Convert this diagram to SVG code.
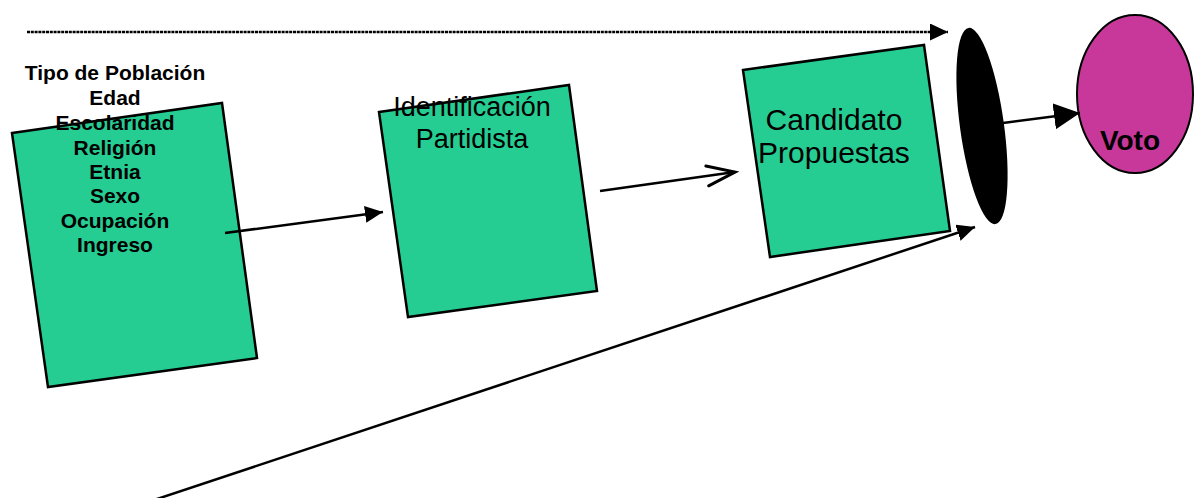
<svg xmlns="http://www.w3.org/2000/svg" width="1194" height="498" viewBox="0 0 1194 498">
  <style>
    .box { fill: #26CD93; stroke: #000; stroke-width: 2.5; }
    .conn { stroke: #000; stroke-width: 2.5; fill: none; }
    .bt { font-family: "Liberation Sans", Arial, sans-serif; font-weight: bold; font-size: 21px; fill: #000; text-anchor: middle; }
    .rt { font-family: "Liberation Sans", Arial, sans-serif; fill: #000; text-anchor: middle; }
    .voto { font-size: 28px; }
  </style>
  <defs>
    <marker id="headS" markerUnits="userSpaceOnUse" markerWidth="20" markerHeight="18" refX="18" refY="8.5" orient="auto">
      <path d="M0,0 L18,8.5 L0,17 z" fill="#000"/>
    </marker>
    <marker id="headL" markerUnits="userSpaceOnUse" markerWidth="28" markerHeight="28" refX="26" refY="13" orient="auto">
      <path d="M0,0 L26,13 L0,26 z" fill="#000"/>
    </marker>
    <marker id="headOpen" markerUnits="userSpaceOnUse" markerWidth="34" markerHeight="26" refX="30" refY="12" orient="auto">
      <path d="M2,2 L30,12 L2,22" fill="none" stroke="#000" stroke-width="3" stroke-linecap="round"/>
    </marker>
  </defs>
  <rect width="1194" height="498" fill="#fff"/>

  <g id="node-poblacion">
    <polygon class="box" points="12,133 222,103 257,358 48,387"/>
    <text class="bt" x="115" y="80">Tipo de Población</text>
    <text class="bt" x="115" y="105">Edad</text>
    <text class="bt" x="115" y="130">Escolaridad</text>
    <text class="bt" x="115" y="155">Religión</text>
    <text class="bt" x="115" y="179">Etnia</text>
    <text class="bt" x="115" y="203">Sexo</text>
    <text class="bt" x="115" y="228">Ocupación</text>
    <text class="bt" x="115" y="252">Ingreso</text>
  </g>

  <g id="node-identificacion">
    <polygon class="box" points="379,112 569,85 597,291 408,317"/>
    <text class="rt" x="472" y="116" font-size="27">Identificación</text>
    <text class="rt" x="472" y="148" font-size="27">Partidista</text>
  </g>

  <g id="node-candidato">
    <polygon class="box" points="743,70 924,45 950,231 770,257"/>
    <text class="rt" x="834" y="130" font-size="30">Candidato</text>
    <text class="rt" x="834" y="163" font-size="30">Propuestas</text>
  </g>

  <g id="node-filtro">
    <ellipse cx="982" cy="126" rx="22" ry="99" transform="rotate(-7.8 982 126)" fill="#000"/>
  </g>

  <g id="node-voto">
    <ellipse cx="1135" cy="94" rx="58" ry="79" fill="#C8389B" stroke="#000" stroke-width="2"/>
    <text class="bt voto" x="1130" y="150">Voto</text>
  </g>

  <g id="connectors">
    <line class="conn" x1="27" y1="32" x2="948" y2="32" stroke-width="3.5" stroke-dasharray="3 0.8" marker-end="url(#headS)"/>
    <line class="conn" x1="225" y1="233" x2="383" y2="212" marker-end="url(#headS)"/>
    <line class="conn" x1="600" y1="191" x2="735" y2="172" stroke-width="3" marker-end="url(#headOpen)"/>
    <line class="conn" x1="1003" y1="123" x2="1080" y2="113" marker-end="url(#headL)"/>
    <line class="conn" x1="148" y1="502" x2="975" y2="227" marker-end="url(#headS)"/>
  </g>
</svg>
